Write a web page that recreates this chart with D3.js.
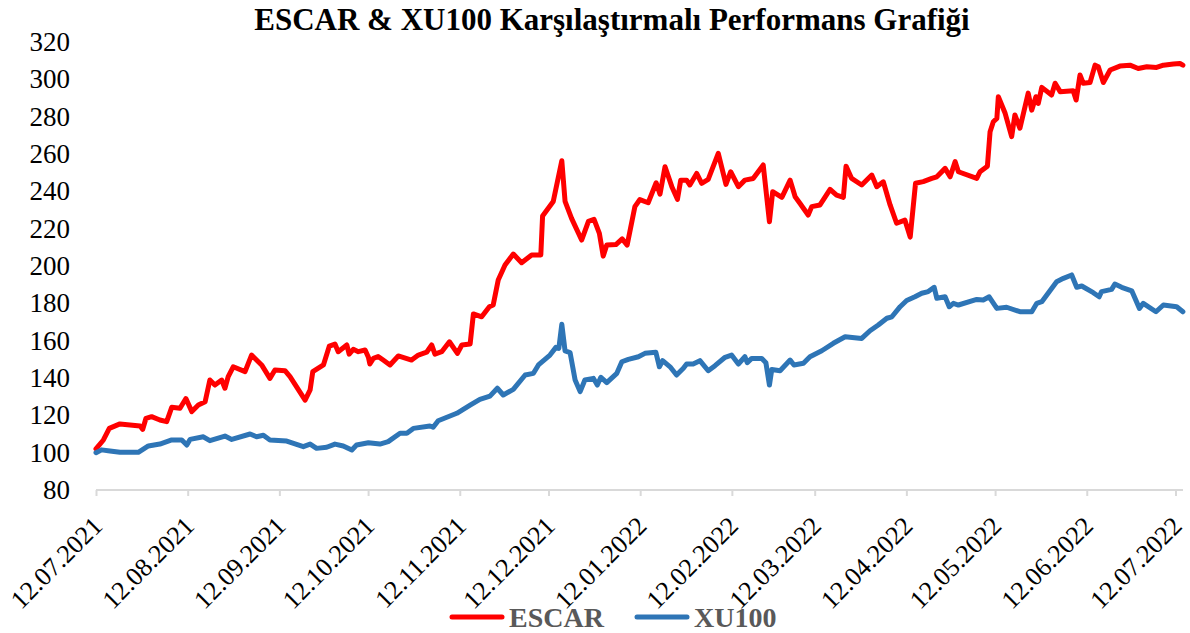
<!DOCTYPE html>
<html>
<head>
<meta charset="utf-8">
<script src="https://cdn.jsdelivr.net/npm/d3@7"></script>
<style>
  body { margin: 0; background: #fff; }
  svg { display: block; font-family: "Liberation Serif", "Times New Roman", serif; }
</style>
</head>
<body>
<svg width="1190" height="633"></svg>
<script>
// days since 12.07.2021 and index values (start = 100)
const escarDays = [0,2.5,4.5,8.1,14.9,15.8,16.9,18.8,21.6,23.9,25.6,28.4,30.4,32.4,34.6,36.9,38.5,40.2,42.5,43.6,44.7,46.4,50.4,52.6,56,58.8,60.5,63.9,65.6,70.7,72.4,73.3,76.9,78.9,80.8,81.9,84.8,85.6,87,88.7,91,92.1,92.6,93.8,95.4,97.1,99.4,102.2,106.7,109,111.8,113.5,114.6,116.9,119.5,122.2,123.7,126.5,127.6,130.4,133,134.3,136,138.3,141.1,143.9,147.3,150.4,151,154.6,157.5,158.6,160.8,164.2,166.5,168.4,170.2,171.5,172.7,175.8,177.9,179.6,182.2,183.9,186.7,189.4,190.7,192.4,194.7,196.6,197.7,199.7,200.8,203.1,204.8,207,210.4,213,214.6,217.2,219.4,222.2,225.6,227.7,228.8,231.9,234.7,236.4,238,240.8,242,244.8,248.2,250.4,252.7,253.6,255.5,258.9,262.3,264,266.2,268.5,270.7,273.5,275.3,277.1,279.7,282.6,284.3,287.1,288.8,290.5,291.6,297.8,298.9,301.4,302.3,303.4,304.6,305.1,307.4,309.6,310.7,312.4,315.2,316.4,317.8,318.6,319.8,323.1,324.3,326,330.4,331.4,332.7,333.8,336.1,337.8,338.9,340.6,342.9,346.2,349.6,352.4,355.3,358.6,360.9,364.3,366.5,367.5];
const escarValues = [102,106.8,113,115.4,114.3,112.5,118.4,119.3,117.5,116.6,124.3,123.8,129,122,125.5,127.3,138.9,136.2,138.9,134.5,140.7,146,143.4,152.3,147,139.8,144.3,143.9,140.7,128.2,133.6,143.4,147,157.1,158.2,154.1,157.7,152.8,155.4,154.1,155,151.1,147.5,150.5,151.5,149.6,147,151.8,149.6,152.3,153.8,157.7,152.8,154.1,159.4,153.2,157.7,158.2,174.3,172.8,178.2,179.1,192.5,200.5,206.4,201.8,205.9,205.9,226.8,234.6,256.4,234.6,225.5,213.9,223.9,225,217.5,205.3,211.2,211.5,214.5,211.2,231.8,235.6,233.9,244.6,238.5,253.2,242.5,235.7,246,246,243.4,249.6,244.3,246.4,260.3,243.7,250.5,242.5,246,246.9,254.1,223.7,239.8,236.8,246,237.1,233.6,227.3,231.8,232.7,241.1,238,236.8,253.5,246.9,243.4,248.7,242.5,245.1,232.7,222.9,224.6,215.5,244.3,245.2,246.9,247.8,252.3,247.8,255.9,250.5,246.9,250.5,253.5,271.9,277.3,279.1,290.7,281.8,269.3,280.9,273.8,292.6,283.5,290.7,287.1,295.7,291.6,297.9,293.4,293.9,288.9,302.3,297.9,298.3,307.6,306.7,298.3,305,307.1,307.6,305.8,306.7,306.4,307.6,308.2,308.5,307.6];

const xuDays = [0,1.9,4.7,8.1,14.3,17.7,21.6,25.6,29,30.7,31.8,36.3,38.5,43.6,45.9,52.1,54.3,56.6,58.8,64.5,70.1,72.4,74.6,78,80.8,83.6,86.5,88.1,92.1,96,98.8,102.8,105.1,107.3,112.9,114,115.7,122,126.5,129.8,133.2,135.7,137.7,141.1,145.1,147.9,149.6,153.5,155.5,156.5,157.5,158.6,160.3,162,163.7,165.3,168.2,169.5,170.7,172.7,176.1,177.8,180,183.4,185.6,189.3,190.5,191.6,194.1,196.3,198.6,199.7,201.9,204.2,207,209.3,212.7,214.9,217.2,219.4,220.2,221.7,225.1,226.5,227.7,228.5,231.3,234.7,236,239.2,241.4,245.4,249.3,253.3,258.9,261.7,264.5,267.4,269.1,271.9,274.1,276.9,279.2,281.4,283.4,284.3,287.1,288.5,289.9,291.6,297.8,300,302,304.6,307.9,312.4,316.4,318.1,319.8,324.8,327.1,329.9,331.6,333.3,337.2,339.2,340,343.4,344.5,346.8,350.2,352.8,354.1,358.4,360.9,365.4,367.5];
const xuValues = [100,101.5,100.9,100.2,100.2,103.6,104.6,106.8,106.8,104.1,107.1,108.5,106.4,108.9,107.1,110,108.5,109.3,106.8,106.2,103.2,104.6,102.3,102.9,104.6,103.6,101.4,104.1,105.3,104.6,105.9,110.4,110.4,113,114.3,113.6,117.1,121.1,125.5,128.6,130.3,134.5,130.9,133.9,141.6,142.5,147,152.3,156.4,155.9,168.8,154.5,153.6,138.9,132.7,138.9,139.8,136.2,140.4,137.5,142.5,148.7,150,151.4,153.2,153.8,146,149.3,146,141.6,145.2,147.5,147.5,149.3,143.9,146.6,151.1,152.3,147.5,151.4,148.2,150.5,150.5,148.2,136.2,144.6,143.9,149.6,147,147.9,151.4,154.6,158.6,162.1,161.2,165.3,168.4,172,172.8,178.2,181.5,183.5,185.4,186.3,188.6,182.7,183.5,178.2,180,179.1,182.1,181.8,183.5,177.3,177.9,175.5,175.5,180,180.9,191.6,193.4,195.2,188.6,189.3,185.7,183.5,186.3,187.5,190.3,188.6,186.7,177.3,180,175.5,179.1,178.2,175.5];

const xTickLabels = ["12.07.2021","12.08.2021","12.09.2021","12.10.2021","12.11.2021","12.12.2021","12.01.2022","12.02.2022","12.03.2022","12.04.2022","12.05.2022","12.06.2022","12.07.2022"];
const yTicks = [80,100,120,140,160,180,200,220,240,260,280,300,320];
const seriesNames = ["ESCAR", "XU100"];
const seriesColors = ["#ff0000", "#2e75b6"];

const svg = d3.select("svg");
const parse = d3.timeParse("%d.%m.%Y");
const fmt = d3.timeFormat("%d.%m.%Y");
const tickDates = xTickLabels.map(parse);
const start = tickDates[0];
const toDate = d => new Date(+start + d * 864e5);

const x = d3.scaleTime()
  .domain([tickDates[0], tickDates[tickDates.length - 1]])
  .range([96, 1175.5]);
const y = d3.scaleLinear().domain([80, 320]).range([490, 42]);

// title
svg.append("text")
  .attr("x", 612).attr("y", 30)
  .attr("text-anchor", "middle")
  .style("font-size", "31px").style("font-weight", "bold")
  .attr("fill", "#000")
  .text("ESCAR & XU100 Karşılaştırmalı Performans Grafiği");

// y axis (labels only)
const yAxis = svg.append("g")
  .attr("transform", "translate(96,0)")
  .call(d3.axisLeft(y).tickValues(yTicks).tickSize(0).tickPadding(26));
yAxis.select(".domain").remove();
yAxis.selectAll("text")
  .style("font-family", "Liberation Serif, serif")
  .style("font-size", "27px").attr("fill", "#000");

// x axis
svg.append("line")
  .attr("x1", 96).attr("x2", 1183).attr("y1", 490).attr("y2", 490)
  .attr("stroke", "#d9d9d9").attr("stroke-width", 2);
const xAxis = svg.append("g")
  .attr("transform", "translate(0,490)")
  .call(d3.axisBottom(x).tickValues(tickDates).tickFormat(fmt).tickSize(6));
xAxis.select(".domain").remove();
xAxis.selectAll(".tick line").attr("stroke", "#d9d9d9").attr("stroke-width", 2);
xAxis.selectAll("text")
  .style("font-family", "Liberation Serif, serif")
  .style("font-size", "26px").attr("fill", "#000")
  .attr("text-anchor", "end")
  .attr("dy", "0.35em")
  .attr("transform", "translate(1,31) rotate(-45)")
  .attr("y", 0).attr("x", 0);

// lines
const line = d3.line().x(d => x(d.date)).y(d => y(d.v));
const escar = escarDays.map((d, i) => ({ date: toDate(d), v: escarValues[i] }));
const xu = xuDays.map((d, i) => ({ date: toDate(d), v: xuValues[i] }));

[escar, xu].forEach((s, i) => {
  svg.append("path")
    .datum(s)
    .attr("d", line)
    .attr("fill", "none")
    .attr("stroke", seriesColors[i])
    .attr("stroke-width", 5)
    .attr("stroke-linejoin", "round")
    .attr("stroke-linecap", "round");
});

// legend
const legendX = [452, 637];
seriesNames.forEach((name, i) => {
  const g = svg.append("g").attr("transform", "translate(" + legendX[i] + ",617)");
  g.append("line").attr("x1", 0).attr("x2", 50).attr("y1", 0).attr("y2", 0)
    .attr("stroke", seriesColors[i]).attr("stroke-width", 5).attr("stroke-linecap", "round");
  g.append("text").attr("x", 57).attr("y", 10)
    .style("font-size", "28px").style("font-weight", "bold")
    .attr("fill", "#595959").text(name);
});
</script>
</body>
</html>
